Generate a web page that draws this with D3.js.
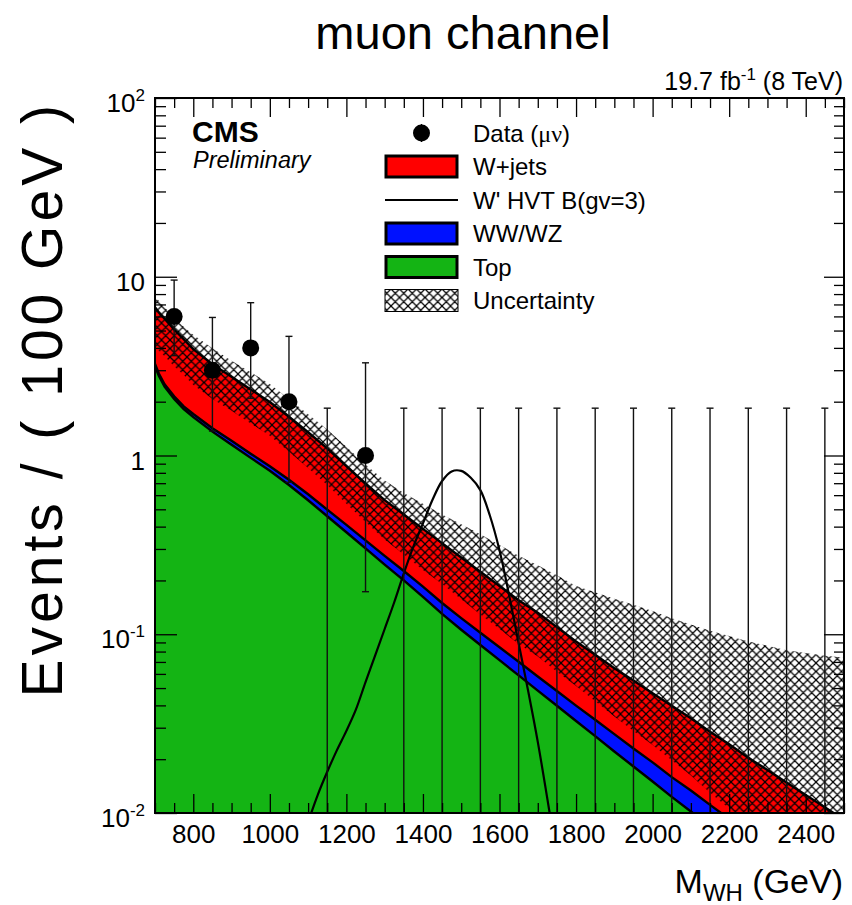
<!DOCTYPE html>
<html>
<head>
<meta charset="utf-8">
<script src="https://cdn.jsdelivr.net/npm/d3@7"></script>
<style>
  body { margin: 0; background: #fff; }
  svg { display: block; }
  text { font-family: "Liberation Sans", Arial, Helvetica, sans-serif; fill: #000; }
</style>
</head>
<body>
<div id="chart"></div>
<script>
// ---- Background shapes (events / 100 GeV) sampled along M_WH ----
const massGrid = [700, 710, 725, 750, 775, 800, 850, 900, 950, 1000, 1050, 1100, 1150, 1200, 1250,
  1300, 1350, 1400, 1450, 1500, 1550, 1600, 1650, 1700, 1750, 1800, 1850, 1900, 1950, 2000,
  2050, 2100, 2150, 2200, 2250, 2300, 2350, 2400, 2450, 2500];
const topBkg = [3.16, 2.79, 2.43, 2.07, 1.82, 1.64, 1.36, 1.15, 0.970, 0.822, 0.684, 0.562, 0.457, 0.372, 0.302,
  0.245, 0.200, 0.162, 0.130, 0.106, 0.0871, 0.0716, 0.0589, 0.0484, 0.0398, 0.0327, 0.0269, 0.0221, 0.0182, 0.0150,
  0.0123, 0.0102, 0.00841, 0.00692, 0.00569, 0.00468, 0.00385, 0.00316, 0.00260, 0.00214];
const dibosonBkg = [0.095, 0.084, 0.073, 0.072, 0.064, 0.066, 0.061, 0.0575, 0.0534, 0.0493, 0.0479, 0.045, 0.0411, 0.0372, 0.0332,
  0.0294, 0.026, 0.0227, 0.0195, 0.0170, 0.0148, 0.0129, 0.0112, 0.00968, 0.00836, 0.00719, 0.00632, 0.00553, 0.00473, 0.0042,
  0.00357, 0.00316, 0.00269, 0.00235, 0.00199, 0.00173, 0.00146, 0.00126, 0.00107, 0.00092];
const wjetsBkg = [3.50, 3.44, 3.32, 2.93, 2.59, 2.23, 1.82, 1.55, 1.32, 1.12, 0.916, 0.742, 0.598, 0.462, 0.362,
  0.288, 0.242, 0.204, 0.174, 0.146, 0.122, 0.1017, 0.0848, 0.0737, 0.0614, 0.0513, 0.0435, 0.037, 0.0321, 0.0276,
  0.0239, 0.0205, 0.0174, 0.0150, 0.0127, 0.0110, 0.0095, 0.0082, 0.0071, 0.0061];
// Uncertainty band edges on the total background
const uncUp = [7.85, 7.33, 6.76, 5.89, 5.25, 4.73, 3.98, 3.39, 2.92, 2.51, 2.07, 1.70, 1.40, 1.12, 0.891,
  0.724, 0.617, 0.537, 0.468, 0.412, 0.363, 0.316, 0.275, 0.243, 0.214, 0.186, 0.172, 0.158, 0.146, 0.135,
  0.123, 0.1135, 0.1047, 0.0977, 0.0912, 0.0861, 0.0813, 0.0785, 0.0759, 0.0741];
const uncDown = [4.07, 3.85, 3.59, 3.16, 2.82, 2.48, 2.07, 1.78, 1.51, 1.29, 1.05, 0.851, 0.684, 0.537, 0.425,
  0.339, 0.279, 0.229, 0.191, 0.157, 0.129, 0.107, 0.0881, 0.075, 0.0617, 0.0513, 0.0422, 0.0347, 0.0288, 0.024,
  0.0197, 0.0162, 0.013, 0.0106, 0.0085, 0.0069, 0.0056, 0.0045, 0.0036, 0.0029];

// ---- Data (100 GeV bins) with Poisson 68% intervals ----
const binCenters = [750, 850, 950, 1050, 1150, 1250, 1350, 1450, 1550, 1650, 1750, 1850, 1950, 2050, 2150, 2250, 2350, 2450];
const dataCounts = [6, 3, 4, 2, 0, 1, 0, 0, 0, 0, 0, 0, 0, 0, 0, 0, 0, 0];
const dataLow = [3.62, 1.37, 2.09, 0.708, 0, 0.173, 0, 0, 0, 0, 0, 0, 0, 0, 0, 0, 0, 0];
const dataHigh = [9.58, 5.92, 7.16, 4.64, 1.84, 3.30, 1.84, 1.84, 1.84, 1.84, 1.84, 1.84, 1.84, 1.84, 1.84, 1.84, 1.84, 1.84];

// ---- Signal: W' HVT model B, gv = 3 ----
const signalMass = [1100, 1125, 1150, 1175, 1200, 1225, 1250, 1275, 1300, 1325, 1350, 1375, 1400, 1425,
  1450, 1475, 1500, 1525, 1550, 1575, 1600, 1625, 1650, 1675, 1700, 1725, 1750];
const signalVals = [0.0089, 0.0126, 0.0170, 0.0224, 0.0288, 0.038, 0.054, 0.076, 0.107, 0.151, 0.219, 0.309, 0.417, 0.565,
  0.72, 0.815, 0.82, 0.75, 0.64, 0.46, 0.295, 0.166, 0.089, 0.048, 0.025, 0.012, 0.0056];

// ---- Axis ticks ----
const xMajorTicks = [800, 1000, 1200, 1400, 1600, 1800, 2000, 2200, 2400];
const yDecades = [0.01, 0.1, 1, 10, 100];
const yTickBase = ["10", "10", "1", "10", "10"];
const yTickExp = ["-2", "-1", "", "", "2"];

const legendLabels = ["Data", "W+jets", "W' HVT B(gv=3)", "WW/WZ", "Top", "Uncertainty"];

const W = 852, H = 905;
const plot = { left: 155, right: 844, top: 98, bottom: 813 };
const colors = { top: "#14b414", diboson: "#0011ff", wjets: "#ff0000" };

const svg = d3.select("#chart").append("svg").attr("width", W).attr("height", H);

const x = d3.scaleLinear().domain([700, 2500]).range([plot.left, plot.right]);
const y = d3.scaleLog().domain([0.01, 100]).range([plot.bottom, plot.top]);

const defs = svg.append("defs");
defs.append("clipPath").attr("id", "plotClip")
  .append("rect").attr("x", plot.left).attr("y", plot.top)
  .attr("width", plot.right - plot.left).attr("height", plot.bottom - plot.top);

// cross-hatch fill for the uncertainty band
const hp = 8.5;
const pat = defs.append("pattern").attr("id", "hatch").attr("patternUnits", "userSpaceOnUse")
  .attr("width", hp).attr("height", hp);
pat.append("path")
  .attr("d", `M0,0L${hp},${hp}M${hp},0L0,${hp}M-1,1L1,-1M${hp - 1},${hp + 1}L${hp + 1},${hp - 1}M-1,${hp - 1}L1,${hp + 1}M${hp - 1},-1L${hp + 1},1`)
  .attr("stroke", "#000").attr("stroke-width", 1.25).attr("fill", "none");

// stacked table
const table = massGrid.map((m, i) => ({ mass: m, top: topBkg[i], diboson: dibosonBkg[i], wjets: wjetsBkg[i] }));
const stack = d3.stack().keys(["top", "diboson", "wjets"]);
const layers = stack(table);

const yOf = v => (v > 0 ? y(v) : plot.bottom + 20);

const g = svg.append("g").attr("clip-path", "url(#plotClip)");

const area = d3.area()
  .x(d => x(d.data.mass))
  .y0(d => yOf(d[0]))
  .y1(d => yOf(d[1]));

g.selectAll("path.layer").data(layers).join("path")
  .attr("class", "layer")
  .attr("d", area)
  .attr("fill", d => colors[d.key]);

// uncertainty band
const bandData = massGrid.map((m, i) => ({ mass: m, lo: uncDown[i], hi: uncUp[i] }));
g.append("path")
  .datum(bandData)
  .attr("d", d3.area().x(d => x(d.mass)).y0(d => y(d.lo)).y1(d => y(d.hi)))
  .attr("fill", "url(#hatch)");

// layer outlines
const topLine = d3.line().x(d => x(d.data.mass)).y(d => yOf(d[1]));
g.selectAll("path.outline").data(layers).join("path")
  .attr("class", "outline")
  .attr("d", topLine)
  .attr("fill", "none").attr("stroke", "#000").attr("stroke-width", 2.4);

// signal
const sigData = signalMass.map((m, i) => ({ mass: m, v: signalVals[i] }));
g.append("path").datum(sigData)
  .attr("d", d3.line().x(d => x(d.mass)).y(d => y(d.v)).curve(d3.curveCatmullRom))
  .attr("fill", "none").attr("stroke", "#000").attr("stroke-width", 2.2);

// data error bars and markers
const dataRows = binCenters.map((c, i) => ({ c, n: dataCounts[i], lo: dataLow[i], hi: dataHigh[i] }));
const capW = 3.5;
const eb = g.append("g").attr("stroke", "#111").attr("stroke-width", 1.4);
eb.selectAll("line.bar").data(dataRows).join("line")
  .attr("x1", d => x(d.c)).attr("x2", d => x(d.c))
  .attr("y1", d => yOf(d.lo)).attr("y2", d => y(d.hi));
eb.selectAll("line.capHi").data(dataRows).join("line")
  .attr("x1", d => x(d.c) - capW).attr("x2", d => x(d.c) + capW)
  .attr("y1", d => y(d.hi)).attr("y2", d => y(d.hi));
eb.selectAll("line.capLo").data(dataRows.filter(d => d.lo > 0)).join("line")
  .attr("x1", d => x(d.c) - capW).attr("x2", d => x(d.c) + capW)
  .attr("y1", d => y(d.lo)).attr("y2", d => y(d.lo));
g.selectAll("circle.pt").data(dataRows.filter(d => d.n > 0)).join("circle")
  .attr("cx", d => x(d.c)).attr("cy", d => y(d.n)).attr("r", 8.5).attr("fill", "#000");

// ---- Axes ----
const xMinor = d3.range(700, 2501, 50).filter(v => !xMajorTicks.includes(v));
const yMinor = [];
[0.01, 0.1, 1, 10].forEach(dec => { for (let k = 2; k <= 9; k++) yMinor.push(dec * k); });

function styleTicks(sel) {
  sel.select(".domain").remove();
  sel.selectAll(".tick line").attr("stroke", "#000").attr("stroke-width", 1.3);
}

svg.append("g").attr("transform", `translate(0,${plot.bottom})`)
  .call(d3.axisBottom(x).tickValues(xMajorTicks).tickSize(-19).tickPadding(11.5).tickFormat(d3.format("d")))
  .call(styleTicks)
  .call(a => a.selectAll(".tick text").attr("font-size", 26).attr("font-family", "Liberation Sans, Arial, sans-serif").attr("fill", "#000"));
svg.append("g").attr("transform", `translate(0,${plot.bottom})`)
  .call(d3.axisBottom(x).tickValues(xMinor).tickSize(-10).tickFormat(""))
  .call(styleTicks);
svg.append("g").attr("transform", `translate(0,${plot.top})`)
  .call(d3.axisTop(x).tickValues(xMajorTicks).tickSize(-19).tickFormat(""))
  .call(styleTicks);
svg.append("g").attr("transform", `translate(0,${plot.top})`)
  .call(d3.axisTop(x).tickValues(xMinor).tickSize(-10).tickFormat(""))
  .call(styleTicks);

const yAxisG = svg.append("g").attr("transform", `translate(${plot.left},0)`)
  .call(d3.axisLeft(y).tickValues(yDecades).tickSize(-22).tickPadding(10).tickFormat(""))
  .call(styleTicks);
yAxisG.selectAll(".tick text").each(function (d, i) {
  const t = d3.select(this).attr("font-size", 26).attr("dy", "0.52em")
    .attr("font-family", "Liberation Sans, Arial, sans-serif").attr("fill", "#000");
  t.text(null);
  t.append("tspan").text(yTickBase[i]);
  if (yTickExp[i]) {
    t.append("tspan").attr("font-size", 17).attr("dy", -11).text(yTickExp[i]);
  }
});
svg.append("g").attr("transform", `translate(${plot.left},0)`)
  .call(d3.axisLeft(y).tickValues(yMinor).tickSize(-11).tickFormat(""))
  .call(styleTicks);
svg.append("g").attr("transform", `translate(${plot.right},0)`)
  .call(d3.axisRight(y).tickValues(yDecades).tickSize(-20).tickFormat(""))
  .call(styleTicks);
svg.append("g").attr("transform", `translate(${plot.right},0)`)
  .call(d3.axisRight(y).tickValues(yMinor).tickSize(-10).tickFormat(""))
  .call(styleTicks);

// frame
svg.append("rect").attr("x", plot.left).attr("y", plot.top)
  .attr("width", plot.right - plot.left).attr("height", plot.bottom - plot.top)
  .attr("fill", "none").attr("stroke", "#000").attr("stroke-width", 2);

// ---- Texts ----
svg.append("text").attr("x", 463).attr("y", 49).attr("text-anchor", "middle")
  .attr("font-size", 47).text("muon channel");

const lumi = svg.append("text").attr("x", plot.right - 1).attr("y", 90).attr("text-anchor", "end").attr("font-size", 25);
lumi.append("tspan").text("19.7 fb");
lumi.append("tspan").attr("font-size", 17).attr("dy", -10).text("-1");
lumi.append("tspan").attr("dy", 10).text(" (8 TeV)");

svg.append("text").attr("x", 192).attr("y", 142).attr("font-size", 30).attr("font-weight", "bold").text("CMS");
svg.append("text").attr("x", 193).attr("y", 168).attr("font-size", 23.5).attr("font-style", "italic").text("Preliminary");

svg.append("text")
  .attr("transform", `translate(62,${plot.top + 3}) rotate(-90)`)
  .attr("text-anchor", "end").attr("font-size", 57).attr("letter-spacing", 4)
  .text("Events / ( 100 GeV )");

const xt = svg.append("text").attr("x", plot.right - 1).attr("y", 893).attr("text-anchor", "end").attr("font-size", 34);
xt.append("tspan").text("M");
xt.append("tspan").attr("font-size", 24).attr("dy", 8).text("WH");
xt.append("tspan").attr("dy", -8).text(" (GeV)");

// ---- Legend ----
const lg = svg.append("g");
const lx0 = 385, lx1 = 458, ltx = 473, ly0 = 133, ldy = 33.5;
legendLabels.forEach((lab, i) => {
  const cy = ly0 + i * ldy;
  if (i === 0) {
    lg.append("line").attr("x1", (lx0 + lx1) / 2).attr("x2", (lx0 + lx1) / 2)
      .attr("y1", cy - 9).attr("y2", cy + 9).attr("stroke", "#000").attr("stroke-width", 1.4);
    lg.append("circle").attr("cx", (lx0 + lx1) / 2).attr("cy", cy).attr("r", 8.5).attr("fill", "#000");
  } else if (i === 2) {
    lg.append("line").attr("x1", lx0).attr("x2", lx1).attr("y1", cy).attr("y2", cy)
      .attr("stroke", "#000").attr("stroke-width", 2.2);
  } else if (i === 5) {
    lg.append("rect").attr("x", lx0).attr("y", cy - 11).attr("width", lx1 - lx0).attr("height", 22)
      .attr("fill", "url(#hatch)").attr("stroke", "#000").attr("stroke-width", 1);
  } else {
    const col = i === 1 ? colors.wjets : i === 3 ? colors.diboson : colors.top;
    lg.append("rect").attr("x", lx0 + 1).attr("y", cy - 10.5).attr("width", lx1 - lx0 - 2).attr("height", 21)
      .attr("fill", col).attr("stroke", "#000").attr("stroke-width", 3);
  }
  const t = lg.append("text").attr("x", ltx).attr("y", cy + 8.5).attr("font-size", 24);
  if (i === 0) {
    t.append("tspan").text("Data (");
    t.append("tspan").attr("font-family", "Liberation Serif, 'DejaVu Serif', serif").text("μν");
    t.append("tspan").text(")");
  } else {
    t.text(lab);
  }
});
</script>
</body>
</html>
